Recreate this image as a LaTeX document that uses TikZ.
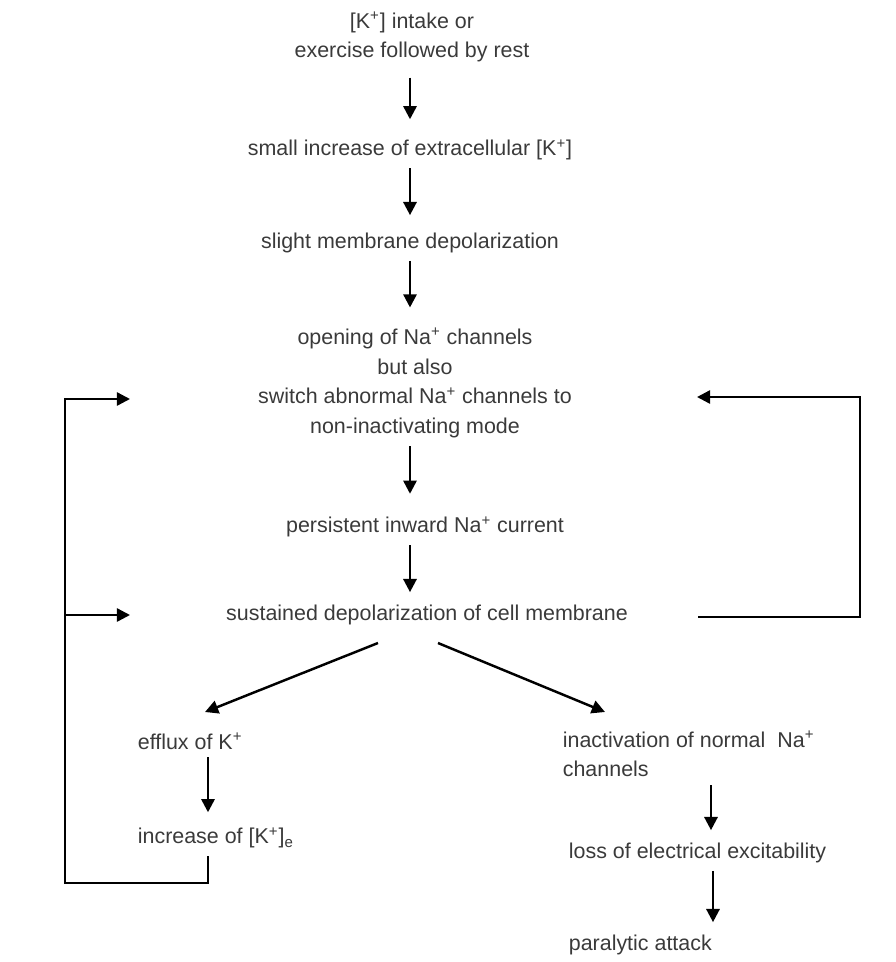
\documentclass[tikz,border=0pt]{standalone}
\usepackage{fontspec}
\setmainfont{Liberation Sans}
\usetikzlibrary{arrows.meta}
\definecolor{txtgray}{HTML}{3A3A3A}
\tikzset{
  lbl/.style={text=txtgray,font=\fontsize{12.2}{17}\selectfont,inner sep=0.15cm},
  arr/.style={-{Triangle[length=7.5pt,width=7.5pt]},line width=1.4pt},
  fb/.style={line width=1.4pt}
}
\begin{document}
\begin{tikzpicture}[scale=1,auto=center]
			\useasboundingbox (0,0) rectangle (17.92,-19.24);
			% column lines
			\coordinate (mc) at (8.2,0);
			\coordinate (lc) at (4.16,0);
			\coordinate (rc) at (14.22,0);
			% main chain
			\node[lbl,align=center] (intake) at (8.24,-0.74) {[K\textsuperscript{+}] intake or\\exercise followed by rest};
			\node[lbl] (smallinc) at (8.2,-3.0) {small increase of extracellular [K\textsuperscript{+}]};
			\node[lbl] (slight) at (8.2,-4.86) {slight membrane depolarization};
			\node[lbl,align=center] (opening) at (8.3,-7.66) {opening of Na\textsuperscript{+} channels\\but also\\switch abnormal Na\textsuperscript{+} channels to\\non-inactivating mode};
			\node[lbl] (persist) at (8.5,-10.54) {persistent inward Na\textsuperscript{+} current};
			\node[lbl] (sustain) at (8.54,-12.3) {sustained depolarization of cell membrane};
			% branches
			\node[lbl,anchor=west] (efflux) at (2.6,-14.82) {efflux of K\textsuperscript{+}};
			\node[lbl,anchor=west] (incK) at (2.6,-16.76) {increase of [K\textsuperscript{+}]\textsubscript{e}};
			\node[lbl,anchor=west,align=left] (inact) at (11.1,-15.08) {inactivation of normal\ \ Na\textsuperscript{+}\\channels};
			\node[lbl,anchor=west] (loss) at (11.22,-17.06) {loss of electrical excitability};
			\node[lbl,anchor=west] (paral) at (11.22,-18.9) {paralytic attack};
			% vertical arrows
			\draw[arr] ([yshift=-0.15cm]intake.south -| mc) -- ([yshift=0.25cm]smallinc.north -| mc);
			\draw[arr] (smallinc.south -| mc) -- ([yshift=0.2cm]slight.north -| mc);
			\draw[arr] (slight.south -| mc) -- ([yshift=0.25cm]opening.north -| mc);
			\draw[arr] (opening.south -| mc) -- ([yshift=0.3cm]persist.north -| mc);
			\draw[arr] (persist.south -| mc) -- ([yshift=0.1cm]sustain.north -| mc);
			\draw[arr] (efflux.south -| lc) -- ([yshift=0.15cm]incK.north -| lc);
			\draw[arr] (inact.south -| rc) -- ([yshift=0.1cm]loss.north -| rc);
			\draw[arr] ([xshift=0.04cm]loss.south -| rc) -- ([xshift=0.04cm,yshift=0.1cm]paral.north -| rc);
			% diagonal arrows
			\coordinate (dl) at (7.56,-12.86);
			\coordinate (dr) at (8.76,-12.86);
			\draw[arr] (dl) -- (4.1,-14.24);
			\draw[arr] (dr) -- (12.1,-14.24);
			% feedback loops
			\coordinate (lb) at (1.3,-17.66);
			\coordinate (lt) at (2.6,-7.98);
			\coordinate (lm) at (2.6,-12.3);
			\draw[arr] (incK.south -| lc) |- (lb) |- (lt);
			\draw[arr] (lb |- lm) -- (lm);
			\coordinate (rs) at (13.96,-12.34);
			\coordinate (rb) at (17.2,-12.34);
			\coordinate (rt) at (13.94,-7.94);
			\draw[arr] (rs) -- (rb) |- (rt);
		\end{tikzpicture}
\end{document}
